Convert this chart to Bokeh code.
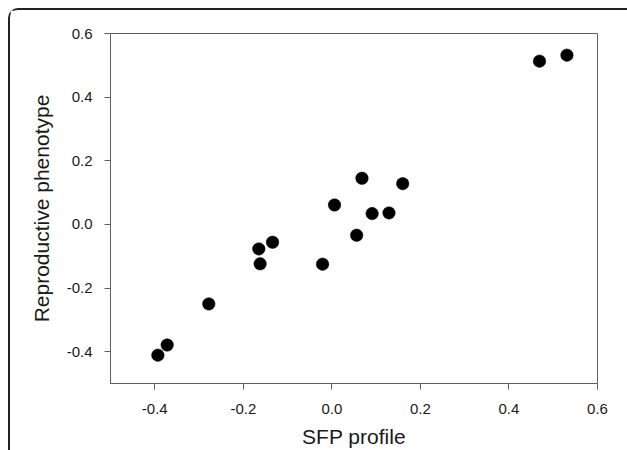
from bokeh.plotting import figure
from bokeh.models import Range1d, FixedTicker, ColumnDataSource
from bokeh.embed import file_html
from bokeh.resources import INLINE

# data
sfp_profile = [-0.393, -0.372, -0.278, -0.165, -0.162, -0.134, -0.021, 0.006,
               0.056, 0.068, 0.091, 0.129, 0.160, 0.469, 0.531]
repro_phenotype = [-0.411, -0.379, -0.250, -0.077, -0.124, -0.056, -0.125, 0.061,
                   -0.034, 0.145, 0.034, 0.036, 0.128, 0.513, 0.532]

x_ticks = [-0.4, -0.2, 0.0, 0.2, 0.4, 0.6]
x_tick_labels = ["-0.4", "-0.2", "0.0", "0.2", "0.4", "0.6"]
y_ticks = [-0.4, -0.2, 0.0, 0.2, 0.4, 0.6]
y_tick_labels = ["-0.4", "-0.2", "0.0", "0.2", "0.4", "0.6"]

FONT = "Liberation Sans"
AXIS_COL = "#606060"
TEXT_COL = "#1a1a1a"

p = figure(width=617, height=439, output_backend="svg", toolbar_location=None,
           x_range=Range1d(-0.5, 0.6), y_range=Range1d(-0.5, 0.6),
           min_border_left=100, min_border_top=23, min_border_right=30,
           min_border_bottom=66)
p.frame_width = 487
p.frame_height = 350
p.styles = {"margin-left": "8px", "margin-top": "8px",
            "border-left": "2px solid #222", "border-top": "2px solid #222",
            "border-top-left-radius": "10px"}

src = ColumnDataSource(dict(x=sfp_profile, y=repro_phenotype))
p.scatter("x", "y", source=src, size=12.5, fill_color="black", line_color="black",
          line_width=0.5)

p.xgrid.visible = False
p.ygrid.visible = False
p.outline_line_color = AXIS_COL
p.outline_line_width = 1
p.background_fill_color = "white"
p.border_fill_color = "white"

for ax, ticks, labels in ((p.xaxis[0], x_ticks, x_tick_labels), (p.yaxis[0], y_ticks, y_tick_labels)):
    ax.ticker = FixedTicker(ticks=ticks)
    ax.major_label_overrides = {t: l for t, l in zip(ticks, labels)}
    ax.minor_tick_line_color = None
    ax.major_tick_in = 0
    ax.major_tick_out = 6
    ax.axis_line_color = AXIS_COL
    ax.major_tick_line_color = AXIS_COL
    ax.major_label_text_font = FONT
    ax.major_label_text_font_size = "15px"
    ax.major_label_text_color = TEXT_COL
    ax.axis_label_text_font = FONT
    ax.axis_label_text_font_size = "21px"
    ax.axis_label_text_font_style = "normal"
    ax.axis_label_text_color = TEXT_COL

p.xaxis.axis_label = "SFP profile"
p.yaxis.axis_label = "Reproductive phenotype"
p.xaxis.major_label_standoff = 14
p.yaxis.major_label_standoff = 12
p.xaxis.axis_label_standoff = 8
p.yaxis.axis_label_standoff = 11

open("out.html", "w").write(file_html(p, INLINE))
